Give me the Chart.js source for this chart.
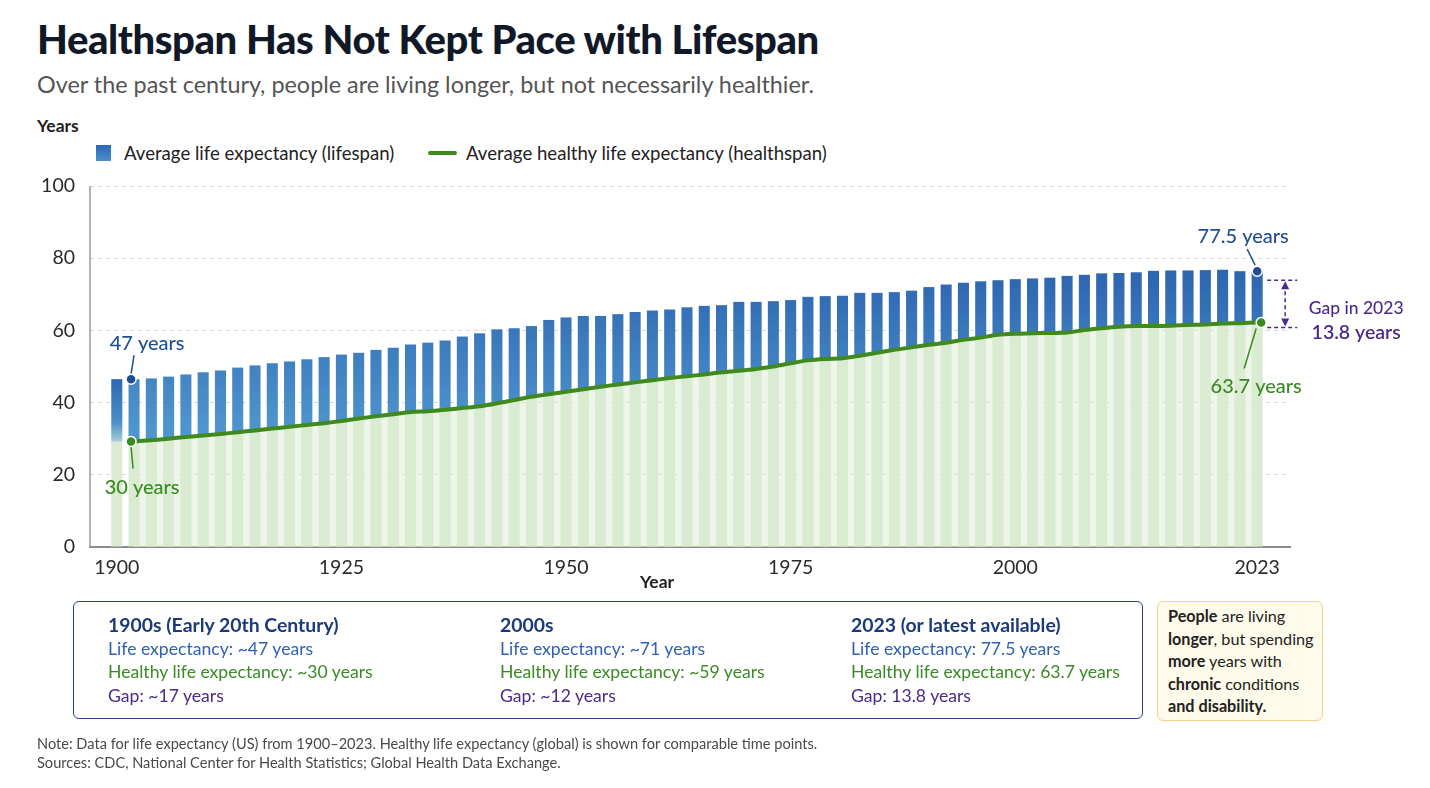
<!DOCTYPE html>
<html>
<head>
<meta charset="utf-8">
<script src="https://cdn.jsdelivr.net/npm/chart.js@4.4.1/dist/chart.umd.min.js"></script>
<style>
  html, body { margin: 0; padding: 0; background: #fff; }
  body { width: 1430px; height: 788px; position: relative; overflow: hidden; font-family: Lato, "Noto Sans", sans-serif; color: #222; }
  #c { position: absolute; left: 0; top: 0; }
  .abs { position: absolute; white-space: nowrap; }
  #title { left: 37px; top: 15px; font-size: 40px; font-weight: 900; color: #111827; letter-spacing: -0.4px; }
  #sub { left: 37px; top: 70px; font-size: 23.4px; color: #555; }
  #ylab { left: 37px; top: 115px; font-size: 17.5px; font-weight: 700; color: #222; }
  .leg { top: 142px; font-size: 18.6px; color: #222; }
  #sq { position: absolute; left: 96px; top: 145px; width: 15px; height: 16px; background: linear-gradient(#2e68b2, #4a8fcb); }
  #ln { position: absolute; left: 428px; top: 151px; width: 29px; height: 4px; border-radius: 2px; background: #3f8a1f; }
  #xlab { left: 640px; top: 571px; font-size: 17.5px; font-weight: 700; color: #222; }
  #box { position: absolute; left: 73px; top: 601px; width: 1068px; height: 116px; border: 1.5px solid #2c3f80; border-radius: 6px; }
  .col { position: absolute; top: 613px; font-size: 17.6px; line-height: 23.5px; }
  .col b { color: #1b3a7a; display: block; font-size: 19.4px; }
  .le { color: #2e62b5; } .he { color: #3a8a26; } .gp { color: #4a2a8a; }
  #tip { position: absolute; left: 1157px; top: 601px; width: 154px; height: 109px; padding: 3px 0 6px 10px; background: #fffbea; border: 1.5px solid #f0d58a; border-radius: 6px; font-size: 16.2px; line-height: 22.6px; color: #222; }
  #tip b { font-weight: 700; }
  .note { left: 37px; font-size: 14.6px; color: #4a4a4a; }
</style>
</head>
<body>
<div id="title" class="abs">Healthspan Has Not Kept Pace with Lifespan</div>
<div id="sub" class="abs">Over the past century, people are living longer, but not necessarily healthier.</div>
<div id="ylab" class="abs">Years</div>
<div id="sq"></div>
<div class="abs leg" style="left:124px">Average life expectancy (lifespan)</div>
<div id="ln"></div>
<div class="abs leg" style="left:466px">Average healthy life expectancy (healthspan)</div>
<canvas id="c" width="1430" height="788"></canvas>
<div id="xlab" class="abs">Year</div>
<div id="box"></div>
<div class="col" style="left:108px"><b>1900s (Early 20th Century)</b><span class="le">Life expectancy: ~47 years</span><br><span class="he">Healthy life expectancy: ~30 years</span><br><span class="gp">Gap: ~17 years</span></div>
<div class="col" style="left:500px"><b>2000s</b><span class="le">Life expectancy: ~71 years</span><br><span class="he">Healthy life expectancy: ~59 years</span><br><span class="gp">Gap: ~12 years</span></div>
<div class="col" style="left:851px"><b>2023 (or latest available)</b><span class="le">Life expectancy: 77.5 years</span><br><span class="he">Healthy life expectancy: 63.7 years</span><br><span class="gp">Gap: 13.8 years</span></div>
<div id="tip"><b>People</b> are living<br><b>longer</b>, but spending<br><b>more</b> years with<br><b>chronic</b> conditions<br><b>and disability.</b></div>
<div class="abs note" style="top:735px">Note: Data for life expectancy (US) from 1900–2023. Healthy life expectancy (global) is shown for comparable time points.</div>
<div class="abs note" style="top:754px">Sources: CDC, National Center for Health Statistics; Global Health Data Exchange.</div>
<script>
// one bar per year below
const years = [
  1900, 1902, 1904, 1906, 1908, 1910, 1912, 1914, 1916, 1918, 1920, 1922, 1924, 1925,
  1927, 1929, 1931, 1933, 1935, 1937, 1939, 1941, 1943, 1945, 1947, 1949, 1950,
  1952, 1954, 1956, 1958, 1960, 1962, 1964, 1966, 1968, 1970, 1972, 1974, 1975,
  1977, 1979, 1981, 1983, 1985, 1987, 1989, 1991, 1993, 1995, 1997, 1999, 2000,
  2002, 2004, 2006, 2008, 2010, 2012, 2014, 2016, 2018, 2019, 2020, 2021, 2022, 2023
];
// average life expectancy (bars)
const lifespan = [
  46.5, 46.5, 46.7, 47.2, 47.8, 48.4, 48.9, 49.7, 50.3, 50.9, 51.4, 52.0, 52.6, 53.3,
  53.8, 54.6, 55.2, 56.1, 56.6, 57.2, 58.3, 59.2, 60.3, 60.6, 61.2, 62.9, 63.6,
  64.0, 64.0, 64.5, 65.1, 65.5, 65.8, 66.4, 66.8, 67.0, 67.9, 67.9, 68.1, 68.4,
  69.3, 69.5, 69.6, 70.4, 70.4, 70.6, 71.0, 72.0, 72.7, 73.2, 73.6, 73.9, 74.2,
  74.4, 74.6, 75.1, 75.4, 75.8, 75.9, 76.1, 76.5, 76.6, 76.6, 76.7, 76.8, 76.4, 76.4
];
// average healthy life expectancy (line), starts at the second bar
const healthspan = [
  null, 29.2, 29.6, 30.0, 30.5, 30.9, 31.3, 31.8, 32.3, 32.8, 33.3, 33.8, 34.3, 34.9,
  35.6, 36.2, 36.8, 37.4, 37.6, 38.0, 38.5, 39.0, 39.8, 40.7, 41.6, 42.3, 43.0,
  43.7, 44.4, 45.0, 45.6, 46.2, 46.8, 47.3, 47.8, 48.4, 48.8, 49.3, 50.0, 50.9,
  51.7, 52.1, 52.3, 53.0, 53.8, 54.6, 55.3, 56.0, 56.6, 57.4, 58.0, 58.8, 59.1,
  59.2, 59.3, 59.4, 60.1, 60.6, 61.0, 61.2, 61.2, 61.3, 61.5, 61.6, 61.9, 62.0, 62.2
];
const tickYears = [1900, 1925, 1950, 1975, 2000, 2023];
const yTicks = [0, 20, 40, 60, 80, 100];

const ann = {
  startLife: '47 years', startHealth: '30 years',
  endLife: '77.5 years', endHealth: '63.7 years',
  gapTitle: 'Gap in 2023', gapValue: '13.8 years'
};

const base = healthspan.map((v, i) => v ?? healthspan[i + 1]);
const tickIdx = tickYears.map(y => years.indexOf(y));

function blueFill(ctx) {
  const chart = ctx.chart;
  if (!chart.chartArea) return '#3a78c0';
  const y = chart.scales.y;
  const c = chart.ctx;
  if (ctx.dataIndex === 0) {
    const g0 = c.createLinearGradient(0, y.getPixelForValue(46), 0, y.getPixelForValue(27));
    g0.addColorStop(0, '#2f69b2');
    g0.addColorStop(0.6, '#4a8fca');
    g0.addColorStop(1, '#cfe6da');
    return g0;
  }
  const g = c.createLinearGradient(0, y.getPixelForValue(78), 0, y.getPixelForValue(32));
  g.addColorStop(0, '#2c63ae');
  g.addColorStop(1, '#4f96ce');
  return g;
}

// solid left axis line (grid lines are dashed)
const yLine = {
  id: 'yLine',
  afterDraw(chart) {
    const { ctx, chartArea: a } = chart;
    ctx.save();
    ctx.beginPath();
    ctx.moveTo(a.left, a.top);
    ctx.lineTo(a.left, a.bottom);
    ctx.lineWidth = 1.5;
    ctx.strokeStyle = '#9a9a9a';
    ctx.stroke();
    ctx.restore();
  }
};

// labels, dots and gap marker
const notes = {
  id: 'notes',
  afterDatasetsDraw(chart) {
    const { ctx, scales: { x, y } } = chart;
    const i0 = 1, i1 = years.length - 1;
    const dot = (px, py, col) => {
      ctx.beginPath();
      ctx.arc(px, py, 5, 0, Math.PI * 2);
      ctx.fillStyle = col; ctx.fill();
      ctx.lineWidth = 1.5; ctx.strokeStyle = '#fff'; ctx.stroke();
    };
    const seg = (ax, ay, bx, by, col) => {
      ctx.beginPath(); ctx.moveTo(ax, ay); ctx.lineTo(bx, by);
      ctx.lineWidth = 1.5; ctx.strokeStyle = col; ctx.stroke();
    };
    const txt = (s, px, py, col, font) => {
      ctx.font = font; ctx.fillStyle = col;
      ctx.textAlign = 'center'; ctx.textBaseline = 'middle';
      ctx.fillText(s, px, py);
    };
    ctx.save();
    const blue = '#1f4e96', green = '#3a8a22', purple = '#4b2a8c';
    const f = '500 20px Lato, "Noto Sans", sans-serif';

    // start of series
    const sx = x.getPixelForValue(i0) - 3;
    const sl = y.getPixelForValue(lifespan[i0]);
    const sh = y.getPixelForValue(healthspan[i0]);
    seg(sx, sl - 5, sx + 3, sl - 24, blue);
    dot(sx, sl, blue);
    txt(ann.startLife, sx + 16, sl - 36, blue, f);
    seg(sx, sh + 5, sx + 2, sh + 27, green);
    dot(sx, sh, green);
    txt(ann.startHealth, sx + 11, sh + 46, green, f);

    // end of series
    const ex = x.getPixelForValue(i1);
    const el = y.getPixelForValue(lifespan[i1]);
    const eh = y.getPixelForValue(healthspan[i1]);
    seg(ex - 2, el - 6, ex - 10, el - 22, blue);
    dot(ex, el, blue);
    txt(ann.endLife, ex - 14, el - 35, blue, f);
    seg(ex - 1, eh + 6, ex - 13, eh + 46, green);
    dot(ex + 4, eh, green);
    txt(ann.endHealth, ex - 1, eh + 64, green, f);

    // gap marker
    const gx = ex + 28, gt = el + 9, gb = eh + 5;
    ctx.setLineDash([4, 3]);
    seg(ex + 10, gt, ex + 40, gt, purple);
    seg(ex + 10, gb, ex + 40, gb, purple);
    seg(gx, gt + 4, gx, gb - 4, purple);
    ctx.setLineDash([]);
    ctx.fillStyle = purple;
    ctx.beginPath(); ctx.moveTo(gx, gt + 1); ctx.lineTo(gx - 4, gt + 9); ctx.lineTo(gx + 4, gt + 9); ctx.fill();
    ctx.beginPath(); ctx.moveTo(gx, gb - 1); ctx.lineTo(gx - 4, gb - 9); ctx.lineTo(gx + 4, gb - 9); ctx.fill();
    txt(ann.gapTitle, ex + 99, gt + 28, purple, '500 17.5px Lato, "Noto Sans", sans-serif');
    txt(ann.gapValue, ex + 99, gt + 53, purple, '600 19.5px Lato, "Noto Sans", sans-serif');
    ctx.restore();
  }
};

new Chart(document.getElementById('c'), {
  type: 'bar',
  data: {
    datasets: [
      {
        type: 'line',
        label: 'Average healthy life expectancy (healthspan)',
        data: healthspan.map((v, i) => ({ x: i, y: v })).filter(p => p.y !== null),
        borderColor: '#3f8a1f',
        borderWidth: 4,
        pointRadius: 0,
        tension: 0.3,
        fill: 'origin',
        backgroundColor: 'rgba(222, 238, 214, 0.55)',
        order: 0
      },
      {
        label: 'Average life expectancy (lifespan)',
        data: lifespan.map((v, i) => ({ x: i, y: [base[i], v] })),
        backgroundColor: blueFill,
        grouped: false,
        barPercentage: 0.64,
        categoryPercentage: 1,
        order: 1
      },
      {
        label: 'healthy part',
        data: base.map((v, i) => ({ x: i, y: [0, v] })),
        backgroundColor: '#d9ebd0',
        grouped: false,
        barPercentage: 0.64,
        categoryPercentage: 1,
        order: 2
      }
    ]
  },
  options: {
    responsive: false,
    animation: false,
    devicePixelRatio: 1,
    layout: { padding: { top: 186, left: 0, right: 140, bottom: 201 } },
    plugins: {
      legend: { display: false },
      tooltip: { enabled: false },
      filler: { drawTime: 'beforeDatasetsDraw' }
    },
    scales: {
      x: {
        type: 'linear',
        min: -1.55,
        max: 67.9,
        offset: false,
        afterFit: s => { s.height = 40; },
        afterBuildTicks: s => { s.ticks = tickIdx.map(v => ({ value: v })); },
        grid: { display: false, drawTicks: false },
        border: { color: '#8c8c8c', width: 2 },
        ticks: {
          padding: 9,
          color: '#2a2a2a',
          font: { family: 'Lato, "Noto Sans", sans-serif', size: 19.5 },
          autoSkip: false,
          maxRotation: 0,
          callback: v => years[v]
        }
      },
      y: {
        min: 0,
        max: 100,
        afterFit: s => { s.width = 90; },
        afterBuildTicks: s => { s.ticks = yTicks.map(v => ({ value: v })); },
        grid: { color: '#d6d6d6', lineWidth: 1, drawTicks: false },
        border: { display: false, dash: [4, 4] },
        ticks: {
          padding: 15,
          color: '#2a2a2a',
          font: { family: 'Lato, "Noto Sans", sans-serif', size: 19.5 }
        }
      }
    }
  },
  plugins: [notes, yLine]
});
</script>
</body>
</html>
